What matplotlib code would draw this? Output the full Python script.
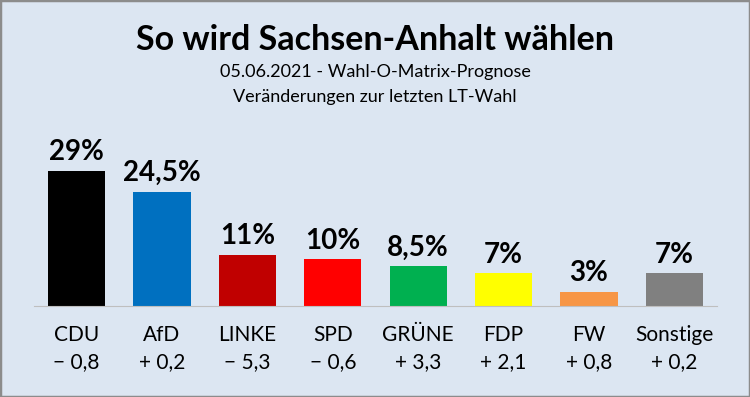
import matplotlib.pyplot as plt
from matplotlib.patches import Rectangle

parteien = ['CDU', 'AfD', 'LINKE', 'SPD', 'GRÜNE', 'FDP', 'FW', 'Sonstige']
prognose = [29, 24.5, 11, 10, 8.5, 7, 3, 7]
prognose_text = ['29%', '24,5%', '11%', '10%', '8,5%', '7%', '3%', '7%']
veraenderung = ['\u2212 0,8', '+ 0,2', '\u2212 5,3', '\u2212 0,6', '+ 3,3', '+ 2,1', '+ 0,8', '+ 0,2']
farben = ['#000000', '#0070C0', '#C00000', '#FF0000', '#00B050', '#FFFF00', '#F79646', '#808080']

plt.rcParams['font.family'] = ['Lato', 'DejaVu Sans']
bg = '#DCE6F2'

fig = plt.figure(figsize=(7.5, 3.97), dpi=100, facecolor=bg)
fig.patches.append(Rectangle((0, 0), 1, 1, transform=fig.transFigure,
                             fill=False, edgecolor='#8C8C8C', linewidth=2.5))

ax = fig.add_axes([0.0453, 0.2292, 0.9107, 0.4106])
ax.set_facecolor(bg)
x = range(len(parteien))
ax.bar(x, prognose, width=0.67, color=farben)
ax.set_xlim(-0.5, 7.5)
ax.set_ylim(0, 35)
for s in ['top', 'left', 'right']:
    ax.spines[s].set_visible(False)
ax.spines['bottom'].set_color('#BFBFBF')
ax.set_xticks([])
ax.set_yticks([])

for i, v in enumerate(prognose):
    ax.annotate(prognose_text[i], (i, v), xytext=(0, 4), textcoords='offset points',
                ha='center', va='bottom', fontsize=20, fontweight='bold')

trans = ax.get_xaxis_transform()
for i in x:
    ax.text(i, -0.175, parteien[i], transform=trans, ha='center', va='center', fontsize=15)
    ax.text(i, -0.345, veraenderung[i], transform=trans, ha='center', va='center', fontsize=15)

fig.text(0.5, 0.9, 'So wird Sachsen-Anhalt wählen', ha='center', va='center',
         fontsize=24.5, fontweight='bold')
fig.text(0.5, 0.818, '05.06.2021 - Wahl-O-Matrix-Prognose', ha='center', va='center',
         fontsize=13)
fig.text(0.5, 0.755, 'Veränderungen zur letzten LT-Wahl', ha='center', va='center', fontsize=13)

fig.savefig('out.png', dpi=100, facecolor=bg)
